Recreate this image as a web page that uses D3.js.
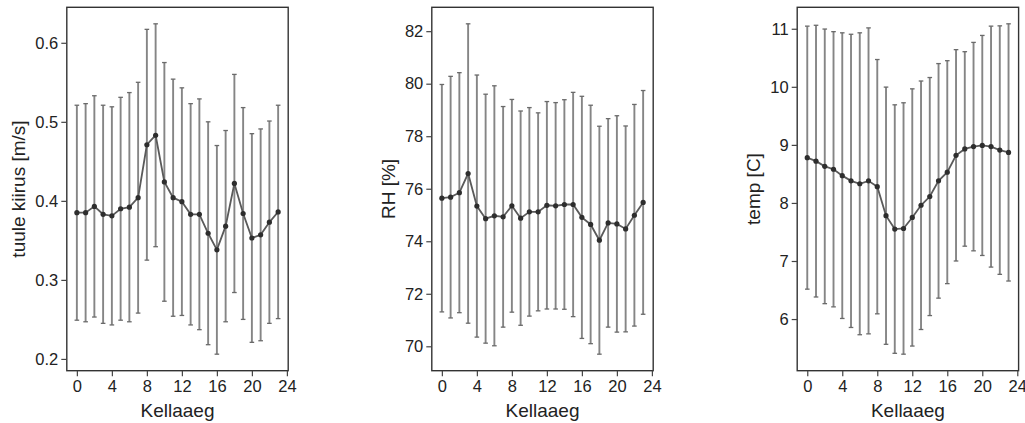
<!DOCTYPE html>
<html>
<head>
<meta charset="utf-8">
<script src="https://cdn.jsdelivr.net/npm/d3@7"></script>
<style>
  html, body { margin: 0; padding: 0; background: #fff; }
  svg text { font-family: "Liberation Sans", Arial, sans-serif; fill: #222; }
</style>
</head>
<body>
<svg id="chart" width="1025" height="423"></svg>
<script>
// ---- data ----
const hours = [0,1,2,3,4,5,6,7,8,9,10,11,12,13,14,15,16,17,18,19,20,21,22,23];
const xTicks = [0,4,8,12,16,20,24];

const windMean = [0.385,0.385,0.393,0.383,0.381,0.390,0.392,0.404,0.471,0.483,0.424,0.404,0.399,0.383,0.383,0.359,0.338,0.368,0.422,0.384,0.353,0.357,0.373,0.386];
const windSd   = [0.136,0.138,0.140,0.138,0.138,0.141,0.145,0.146,0.146,0.141,0.151,0.150,0.144,0.140,0.146,0.141,0.132,0.121,0.138,0.134,0.132,0.134,0.128,0.135];
const windTicks = [0.2,0.3,0.4,0.5,0.6];

const rhMean = [75.64,75.68,75.85,76.58,75.34,74.86,74.97,74.93,75.35,74.88,75.12,75.12,75.37,75.35,75.40,75.40,74.91,74.64,74.04,74.70,74.66,74.47,74.99,75.48];
const rhSd   = [4.33,4.60,4.57,5.70,4.99,4.74,4.95,4.20,4.05,4.08,3.97,3.77,3.95,3.93,3.99,4.27,4.61,4.54,4.34,3.97,4.12,3.92,4.22,4.26];
const rhTicks = [70,72,74,76,78,80,82];

const tempMean = [8.78,8.72,8.63,8.58,8.47,8.38,8.33,8.38,8.28,7.78,7.55,7.56,7.75,7.96,8.11,8.38,8.53,8.82,8.93,8.97,8.99,8.97,8.91,8.87];
const tempSd   = [2.265,2.34,2.365,2.37,2.46,2.525,2.60,2.635,2.19,2.215,2.14,2.165,2.215,2.14,2.05,2.02,1.92,1.82,1.675,1.795,1.895,2.075,2.14,2.215];
const tempTicks = [6,7,8,9,10,11];

const panels = [
  { left: 66.8,  labelOff: 48.5, ylabel: "tuule kiirus [m/s]", mean: windMean, sd: windSd, ticks: windTicks, fmt: d3.format(".1f") },
  { left: 431.8, labelOff: 43.5, ylabel: "RH [%]",             mean: rhMean,   sd: rhSd,   ticks: rhTicks,   fmt: d3.format("d") },
  { left: 797.2, labelOff: 43.5, ylabel: "temp [C]",           mean: tempMean, sd: tempSd, ticks: tempTicks, fmt: d3.format("d") }
];

const PW = 221.4, PTOP = 7.3, PBOT = 370.7;
const svg = d3.select("#chart");

panels.forEach(p => {
  const lo = p.mean.map((m, i) => m - p.sd[i]);
  const hi = p.mean.map((m, i) => m + p.sd[i]);
  const yMin = d3.min(lo), yMax = d3.max(hi), pad = (yMax - yMin) * 0.05;

  const x = d3.scaleLinear().domain([-1.15, 24.15]).range([p.left, p.left + PW]);
  const y = d3.scaleLinear().domain([yMin - pad, yMax + pad]).range([PBOT, PTOP]);

  const g = svg.append("g");

  // error bars
  const eb = g.append("g");
  hours.forEach((h, i) => {
    eb.append("line").attr("x1", x(h)).attr("x2", x(h)).attr("y1", y(lo[i])).attr("y2", y(hi[i]))
      .attr("stroke", "#858585").attr("stroke-width", 1.9);
    [lo[i], hi[i]].forEach(v => {
      eb.append("line").attr("x1", x(h) - 2.3).attr("x2", x(h) + 2.3).attr("y1", y(v)).attr("y2", y(v))
        .attr("stroke", "#6a6a6a").attr("stroke-width", 1.3);
    });
  });

  // mean line
  g.append("path").datum(hours)
    .attr("d", d3.line().x(h => x(h)).y((h, i) => y(p.mean[i])))
    .attr("fill", "none").attr("stroke", "#5a5a5a").attr("stroke-width", 1.8);

  g.selectAll("circle.pt").data(hours).join("circle")
    .attr("cx", h => x(h)).attr("cy", (h, i) => y(p.mean[i])).attr("r", 2.6)
    .attr("fill", "#2e2e2e");

  // frame
  g.append("rect").attr("x", p.left).attr("y", PTOP).attr("width", PW).attr("height", PBOT - PTOP)
    .attr("fill", "none").attr("stroke", "#333").attr("stroke-width", 1.4);

  // axes
  const xa = g.append("g").attr("transform", `translate(0,${PBOT})`)
    .call(d3.axisBottom(x).tickValues(xTicks).tickSize(5.5).tickPadding(4).tickFormat(d3.format("d")));
  const ya = g.append("g").attr("transform", `translate(${p.left},0)`)
    .call(d3.axisLeft(y).tickValues(p.ticks).tickSize(5.5).tickPadding(3).tickFormat(p.fmt));
  [xa, ya].forEach(a => {
    a.select(".domain").remove();
    a.selectAll(".tick line").attr("stroke", "#444").attr("stroke-width", 1.2);
    a.selectAll(".tick text").attr("font-size", "16.5px").attr("fill", "#222");
  });

  // labels
  g.append("text").attr("x", p.left + PW / 2).attr("y", 416.5).attr("text-anchor", "middle")
    .attr("font-size", "19px").text("Kellaaeg");
  g.append("text").attr("transform", `translate(${p.left - p.labelOff},${(PTOP + PBOT) / 2}) rotate(-90)`)
    .attr("text-anchor", "middle").attr("dy", "0.35em").attr("font-size", "19px").text(p.ylabel);
});
</script>
</body>
</html>
